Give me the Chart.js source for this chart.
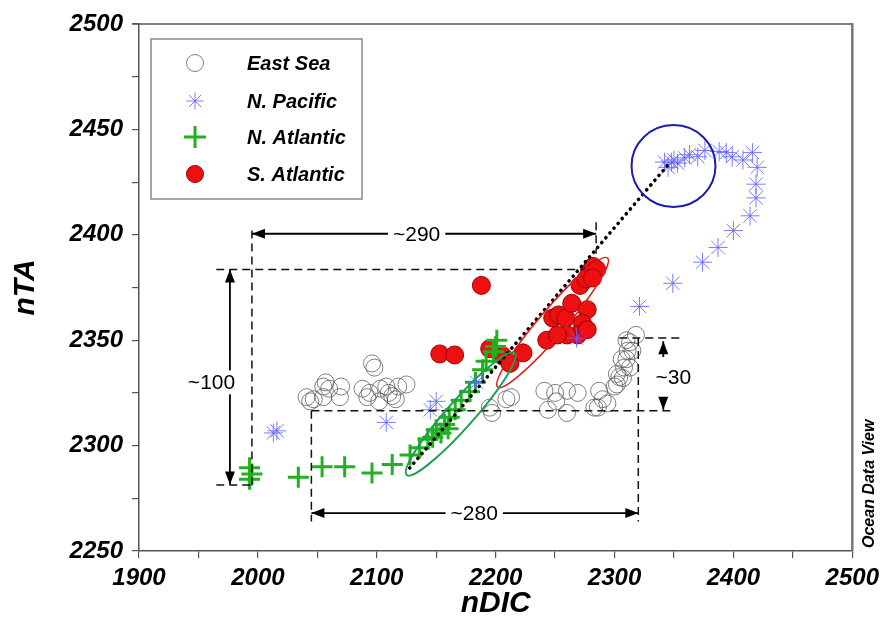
<!DOCTYPE html>
<html><head><meta charset="utf-8">
<script src="https://cdn.jsdelivr.net/npm/chart.js@4.4.0/dist/chart.umd.min.js"></script>
<style>html,body{margin:0;padding:0;background:#fff}#wrap{width:885px;height:622px}</style>
</head><body><div id="wrap"><canvas id="c" width="885" height="622"></canvas></div>
<script>
// ---------------- DATA ----------------
const seriesNames = ['East Sea', 'N. Pacific', 'N. Atlantic', 'S. Atlantic'];

const eastSeaDIC = [2041,2044,2047,2055,2057,2060,2070,2055,2069,2096,2098,2088,2094,2103,2108,2110,2113,2118,2125,2116,2102,2092,
  2195,2197,2209,2213,
  2241,2250,2260,2269,2251,2260,2244,2287,2290,2286,2283,2300,2304,2308,2306,2311,2310,2318,2313,2315,2310,2313,2302,2307,2302,2294];
const eastSeaTA  = [2323,2321,2322,2328,2330,2327,2328,2323,2323,2339,2337,2327,2325,2327,2328,2325,2323.5,2328,2329,2322,2321,2323,
  2318,2315.5,2322,2323,
  2326,2325,2326,2325,2321,2315.5,2317,2326,2322,2318,2318,2328,2332.5,2337,2341,2345,2350,2352.5,2349,2345,2341,2337,2334,2332,2329,2320];

const nPacificDIC = [2016,2013,2108,2150,2145,2184,2268,2321,2349,2374,2387,2400,2414,2419,2419,2420,2416,2408,2399,2394,2388,2376,2370,2363,2359,2353,2348,2342,2345,2350];
const nPacificTA  = [2307,2306,2311,2321,2317,2330,2351,2366,2377,2387,2394,2402,2409,2417.5,2424,2432,2439,2435.5,2437,2439,2439.5,2440,2437,2438,2436.5,2434,2434.5,2434.5,2432,2435.5];

const nAtlanticDIC = [1993,1993,1995,2034,2054,2073,2096,2113,2128,2136,2143,2147,2150,2154,2157,2160,2161,2166,2171,2178,2183,2189,2192,2198,2201,2200];
const nAtlanticTA  = [2289.5,2284,2286.5,2285,2290,2290,2287,2291,2295.5,2299,2303,2304,2307.5,2306,2310,2308,2313.5,2317,2321.5,2325.5,2330,2336,2340,2344.5,2350,2347];

const sAtlanticDIC = [2188,2153,2165.5,2195,2206,2212,2223,2243,2248,2253,2259,2264,2277,2273,2269,2260,2252,2277,2271,2276,2279,2282,2285,2281.5];
const sAtlanticTA  = [2376,2343.5,2343,2346,2342.5,2339,2344,2350,2360.5,2362,2360.5,2367.5,2364.5,2358,2352.5,2352.5,2352.5,2355,2376,2379,2382.5,2385,2383.5,2379.5];

const xTickValues = [1900, 2000, 2100, 2200, 2300, 2400, 2500];
const yTickValues = [2250, 2300, 2350, 2400, 2450, 2500];

// annotation geometry in data units
const dashedLines = [
  [[1995, 2402], [1995, 2281]],
  [[2284.5, 2406], [2284.5, 2391]],
  [[1965, 2383.5], [2282, 2383.5]],
  [[1965, 2281.3], [1996, 2281.3]],
  [[2045, 2316.5], [2349, 2316.5]],
  [[2045, 2316.5], [2045, 2264]],
  [[2320, 2351], [2320, 2264]],
  [[2304, 2351], [2355, 2351]]
];
const doubleArrows = [
  {from: [1995, 2400.5], to: [2284.5, 2400.5], text: '~290', at: [2133.5, 2400.5]},
  {from: [1976.5, 2383.5], to: [1976.5, 2281.5], text: '~100', at: [1961, 2330]},
  {from: [2045, 2268], to: [2320, 2268], text: '~280', at: [2182, 2268]}
];
const singleArrows = [
  {from: [2341, 2342], to: [2341, 2349.5]},
  {from: [2341, 2323], to: [2341, 2317]}
];
const freeLabels = [{text: '~30', at: [2349.5, 2332.5]}];
const dottedLine = [[2127.7, 2289.4], [2346.2, 2434]];
const ellipses = [
  {p1: [2314.3, 2432.6], p2: [2384.9, 2432.6], minorPx: 41, color: '#1c1cb0', width: 2},
  {p1: [2201.7, 2327.8], p2: [2294.1, 2389.0], minorPx: 13, color: '#e31a1a', width: 1.6},
  {p1: [2125.2, 2286.1], p2: [2216.0, 2343.9], minorPx: 13.5, color: '#1f9e55', width: 2}
];

// ---------------- HELPERS ----------------
const zip = (xs, ys) => xs.map((x, i) => ({x, y: ys[i]}));
const FONT = "'Liberation Sans', Arial, Helvetica, sans-serif";

const markerStyles = [
  {pointStyle: 'circle', radius: 8.5, fill: 'rgba(0,0,0,0)', stroke: 'rgba(85,85,85,0.75)', lw: 1},
  {pointStyle: 'star', radius: 9.5, fill: 'rgba(0,0,0,0)', stroke: 'rgba(100,100,255,0.85)', lw: 1},
  {pointStyle: 'cross', radius: 10.5, fill: 'rgba(0,0,0,0)', stroke: '#22b022', lw: 3},
  {pointStyle: 'circle', radius: 9, fill: '#ee1010', stroke: '#9a0000', lw: 1}
];

const annoPlugin = {
  id: 'anno',
  afterDatasetsDraw(chart) {
    const ctx = chart.ctx, xs = chart.scales.x, ys = chart.scales.y;
    const P = (p) => [xs.getPixelForValue(p[0]), ys.getPixelForValue(p[1])];
    ctx.save();
    ctx.strokeStyle = '#111'; ctx.lineWidth = 1.5; ctx.setLineDash([8, 5]);
    dashedLines.forEach(([a, b]) => {
      const A = P(a), B = P(b);
      ctx.beginPath(); ctx.moveTo(A[0], A[1]); ctx.lineTo(B[0], B[1]); ctx.stroke();
    });
    ctx.setLineDash([]);
    const head = (tip, tail) => {
      const dx = tip[0] - tail[0], dy = tip[1] - tail[1];
      const L = Math.hypot(dx, dy) || 1, ux = dx / L, uy = dy / L;
      const len = 13, hw = 5;
      ctx.beginPath();
      ctx.moveTo(tip[0], tip[1]);
      ctx.lineTo(tip[0] - ux * len - uy * hw, tip[1] - uy * len + ux * hw);
      ctx.lineTo(tip[0] - ux * len + uy * hw, tip[1] - uy * len - ux * hw);
      ctx.closePath(); ctx.fill();
    };
    const line = (A, B) => { ctx.beginPath(); ctx.moveTo(A[0], A[1]); ctx.lineTo(B[0], B[1]); ctx.stroke(); };
    ctx.strokeStyle = '#000'; ctx.fillStyle = '#000'; ctx.lineWidth = 1.8;
    ctx.font = '21px ' + FONT; ctx.textAlign = 'center'; ctx.textBaseline = 'middle';
    doubleArrows.forEach(a => {
      const A = P(a.from), B = P(a.to);
      ctx.fillStyle = '#000';
      line(A, B); head(A, B); head(B, A);
      const T = P(a.at); const w = ctx.measureText(a.text).width + 10;
      ctx.fillStyle = '#fff'; ctx.fillRect(T[0] - w / 2, T[1] - 12, w, 24);
      ctx.fillStyle = '#000'; ctx.fillText(a.text, T[0], T[1] + 1);
    });
    singleArrows.forEach(a => {
      const A = P(a.from), B = P(a.to);
      line(A, B); head(B, A);
    });
    freeLabels.forEach(l => { const T = P(l.at); ctx.fillText(l.text, T[0], T[1] + 1); });
    {
      const A = P(dottedLine[0]), B = P(dottedLine[1]);
      ctx.lineWidth = 3.6; ctx.lineCap = 'round'; ctx.setLineDash([0.1, 6.2]);
      line(A, B); ctx.setLineDash([]); ctx.lineCap = 'butt';
    }
    ellipses.forEach(e => {
      const A = P(e.p1), B = P(e.p2);
      const cx = (A[0] + B[0]) / 2, cy = (A[1] + B[1]) / 2;
      const a = Math.hypot(B[0] - A[0], B[1] - A[1]) / 2;
      const ang = Math.atan2(B[1] - A[1], B[0] - A[0]);
      ctx.strokeStyle = e.color; ctx.lineWidth = e.width;
      ctx.beginPath(); ctx.ellipse(cx, cy, a, e.minorPx, ang, 0, Math.PI * 2); ctx.stroke();
    });
    ctx.restore();
  },
  afterDraw(chart) {
    const ctx = chart.ctx, ca = chart.chartArea;
    ctx.save();
    ctx.strokeStyle = '#555'; ctx.lineWidth = 1.5;
    ctx.beginPath(); ctx.moveTo(ca.left - 7, ca.top); ctx.lineTo(ca.right, ca.top); ctx.stroke();
    ctx.strokeStyle = '#777'; ctx.lineWidth = 2.5;
    ctx.beginPath(); ctx.moveTo(ca.right, ca.top - 1); ctx.lineTo(ca.right, ca.bottom); ctx.stroke();
    const lx = ca.left + 12, ly = ca.top + 15, lw = 211, lh = 160;
    ctx.fillStyle = '#fff'; ctx.fillRect(lx, ly, lw, lh);
    ctx.strokeStyle = '#888'; ctx.lineWidth = 1.5; ctx.strokeRect(lx, ly, lw, lh);
    const rows = [24, 62, 98, 135];
    ctx.font = 'italic bold 20px ' + FONT; ctx.textAlign = 'left'; ctx.textBaseline = 'middle';
    seriesNames.forEach((name, i) => {
      const m = markerStyles[i];
      ctx.fillStyle = m.fill; ctx.strokeStyle = m.stroke; ctx.lineWidth = m.lw;
      Chart.helpers.drawPoint(ctx, {pointStyle: m.pointStyle, radius: i === 2 ? 11 : 8.5, rotation: 0, borderWidth: m.lw}, lx + 44, ly + rows[i]);
      ctx.fillStyle = '#000';
      ctx.fillText(name, lx + 96, ly + rows[i] + 1);
    });
    ctx.translate(ca.right + 17, ca.bottom - 3);
    ctx.rotate(-Math.PI / 2);
    ctx.font = 'italic bold 16px ' + FONT; ctx.fillStyle = '#000';
    ctx.textAlign = 'left'; ctx.textBaseline = 'middle';
    ctx.fillText('Ocean Data View', 0, 0);
    ctx.restore();
  }
};

const tickFont = {family: FONT, size: 24, weight: 'bold', style: 'italic'};
const titleFont = {family: FONT, size: 30, weight: 'bold', style: 'italic'};
const allX = [eastSeaDIC, nPacificDIC, nAtlanticDIC, sAtlanticDIC];
const allY = [eastSeaTA, nPacificTA, nAtlanticTA, sAtlanticTA];
const drawOrder = [3, 0, 1, 2];

new Chart(document.getElementById('c'), {
  type: 'scatter',
  data: {
    datasets: seriesNames.map((name, i) => ({
      label: name,
      data: zip(allX[i], allY[i]),
      order: drawOrder[i],
      pointStyle: markerStyles[i].pointStyle,
      pointRadius: markerStyles[i].radius,
      pointHoverRadius: markerStyles[i].radius,
      backgroundColor: markerStyles[i].fill,
      borderColor: markerStyles[i].stroke,
      borderWidth: markerStyles[i].lw,
      showLine: false
    }))
  },
  options: {
    responsive: false,
    animation: false,
    devicePixelRatio: 1,
    layout: {padding: {top: 24, right: 32, left: 0, bottom: 0}},
    plugins: {legend: {display: false}, tooltip: {enabled: false}},
    scales: {
      x: {
        type: 'linear', min: 1900, max: 2500,
        ticks: {stepSize: 50, autoSkip: false, maxRotation: 0, padding: 6, color: '#000', font: tickFont,
          callback: (v) => xTickValues.includes(v) ? String(v) : ''},
        grid: {drawOnChartArea: false, drawTicks: true, tickLength: 7, color: '#555', lineWidth: 1.2},
        border: {color: '#555', width: 1.5},
        title: {display: true, text: 'nDIC', color: '#000', font: titleFont, padding: {top: 0, bottom: 0}},
        afterFit: (s) => { s.height = 71; }
      },
      y: {
        type: 'linear', min: 2250, max: 2500,
        ticks: {stepSize: 25, autoSkip: false, padding: 9, color: '#000', font: tickFont,
          callback: (v) => yTickValues.includes(v) ? String(v) : ''},
        grid: {drawOnChartArea: false, drawTicks: true, tickLength: 7, color: '#555', lineWidth: 1.2},
        border: {color: '#555', width: 1.5},
        title: {display: true, text: 'nTA', color: '#000', font: titleFont, padding: {top: 8, bottom: 0}},
        afterFit: (s) => { s.width = 139; }
      }
    }
  },
  plugins: [annoPlugin]
});
</script></body></html>
